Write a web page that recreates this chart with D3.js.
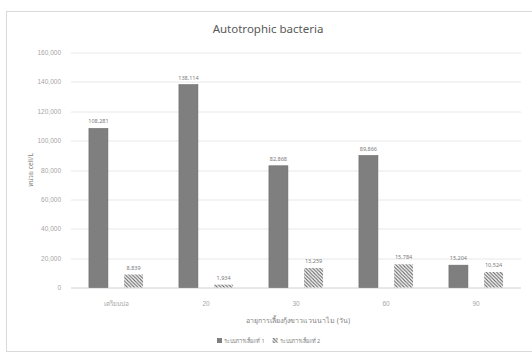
<!DOCTYPE html>
<html>
<head>
<meta charset="utf-8">
<script src="https://cdn.jsdelivr.net/npm/d3@7/dist/d3.min.js"></script>
<style>
  html, body { margin: 0; padding: 0; background: #fff; }
  svg { display: block; font-family: "Noto Sans", "Open Sans", "DejaVu Sans", sans-serif; }
</style>
</head>
<body>
<svg id="chart" width="532" height="354"></svg>
<script>
// Categories (culture age) and the two culture systems
const categories = ["เตรียมบ่อ", "20", "30", "60", "90"];
const system1 = [108281, 138114, 82868, 89866, 15204];
const system2 = [8839, 1934, 13259, 15784, 10524];
const seriesNames = ["ระบบการเลี้ยงที่ 1", "ระบบการเลี้ยงที่ 2"];
const yTicks = [0, 20000, 40000, 60000, 80000, 100000, 120000, 140000, 160000];

const svg = d3.select("#chart");
const W = 532, H = 354;
const m = { left: 71, right: 11, top: 52.5, bottom: 66.5 };
const plotW = W - m.left - m.right;
const plotH = H - m.top - m.bottom;

// Hatch pattern for system 2
const defs = svg.append("defs");
const pat = defs.append("pattern")
  .attr("id", "hatch")
  .attr("patternUnits", "userSpaceOnUse")
  .attr("width", 3.5).attr("height", 3.5);
pat.append("rect").attr("width", 3.5).attr("height", 3.5).attr("fill", "#fff");
pat.append("path")
  .attr("d", "M-1,-1 L4.5,4.5 M-1,2.5 L1,4.5 M2.5,-1 L4.5,1")
  .attr("stroke", "#6a6a6a").attr("stroke-width", 1.1);

// Chart frame
svg.append("rect")
  .attr("x", 6.5).attr("y", 11.5).attr("width", 530).attr("height", 340)
  .attr("fill", "#fff").attr("stroke", "#d9d9d9");

svg.append("text")
  .attr("x", 268).attr("y", 32.5)
  .attr("text-anchor", "middle")
  .attr("font-size", 11.5).attr("fill", "#595959")
  .text("Autotrophic bacteria");

const g = svg.append("g").attr("transform", `translate(${m.left},${m.top})`);

const x0 = d3.scaleBand().domain(categories).range([0, plotW]);
const x1 = d3.scaleBand().domain([0, 1]).range([0, x0.bandwidth()]).paddingInner(0.46).paddingOuter(0.51);
const y = d3.scaleLinear().domain([0, 160000]).range([plotH, 0]);

// Gridlines
g.append("g").selectAll("line").data(yTicks).join("line")
  .attr("x1", 0).attr("x2", plotW)
  .attr("y1", d => Math.round(y(d)) + 0.5).attr("y2", d => Math.round(y(d)) + 0.5)
  .attr("stroke", d => d === 0 ? "#d0d0d0" : "#e8e8e8");

// Y axis labels
const yAxis = d3.axisLeft(y).tickValues(yTicks).tickSize(0).tickPadding(10)
  .tickFormat(d3.format(","));
g.append("g").call(yAxis)
  .call(s => s.select(".domain").remove())
  .call(s => s.selectAll("text").attr("font-size", 6.5).attr("fill", "#a6a6a6").attr("font-family", null));

// X axis labels
const xAxis = d3.axisBottom(x0).tickSize(0).tickPadding(14);
g.append("g").attr("transform", `translate(0,${plotH})`).call(xAxis)
  .call(s => s.select(".domain").remove())
  .call(s => s.selectAll("text").attr("font-size", 6.5).attr("fill", "#a6a6a6").attr("font-family", null));

// Bars
const rows = categories.map((c, i) => ({ cat: c, vals: [system1[i], system2[i]] }));
const grp = g.selectAll(".grp").data(rows).join("g")
  .attr("transform", d => `translate(${x0(d.cat)},0)`);

grp.selectAll("rect").data(d => d.vals.map((v, k) => ({ v, k }))).join("rect")
  .attr("x", d => x1(d.k))
  .attr("width", x1.bandwidth())
  .attr("y", d => y(d.v))
  .attr("height", d => y(0) - y(d.v))
  .attr("fill", d => d.k === 0 ? "#7f7f7f" : "url(#hatch)")
  .attr("stroke", d => d.k === 0 ? "#6a6a6a" : "none")
  .attr("stroke-width", 0.6);

grp.selectAll("text.val").data(d => d.vals.map((v, k) => ({ v, k }))).join("text")
  .attr("class", "val")
  .attr("x", d => x1(d.k) + x1.bandwidth() / 2)
  .attr("y", d => y(d.v) - 5)
  .attr("text-anchor", "middle")
  .attr("font-size", 5.5).attr("fill", "#7a7a7a")
  .text(d => d3.format(",")(d.v));

// X axis title
svg.append("text")
  .attr("x", 298).attr("y", 323)
  .attr("text-anchor", "middle")
  .attr("font-size", 7).attr("fill", "#7f7f7f")
  .text("อายุการเลี้ยงกุ้งขาวแวนนาไม (วัน)");

// Y axis title
svg.append("text")
  .attr("transform", "translate(33,170) rotate(-90)")
  .attr("text-anchor", "middle")
  .attr("font-size", 6.5).attr("fill", "#7f7f7f")
  .text("หน่วย cell/L");

// Legend
const leg = svg.append("g").attr("transform", "translate(217,338)");
const items = [{ name: seriesNames[0], fill: "#7f7f7f" }, { name: seriesNames[1], fill: "url(#hatch)" }];
let lx = 0;
items.forEach((it) => {
  leg.append("rect").attr("x", lx).attr("y", 0).attr("width", 5).attr("height", 5).attr("fill", it.fill);
  const t = leg.append("text").attr("x", lx + 7).attr("y", 5)
    .attr("font-size", 5.5).attr("fill", "#7f7f7f").text(it.name);
  lx += 7 + t.node().getComputedTextLength() + 8;
});
</script>
</body>
</html>
